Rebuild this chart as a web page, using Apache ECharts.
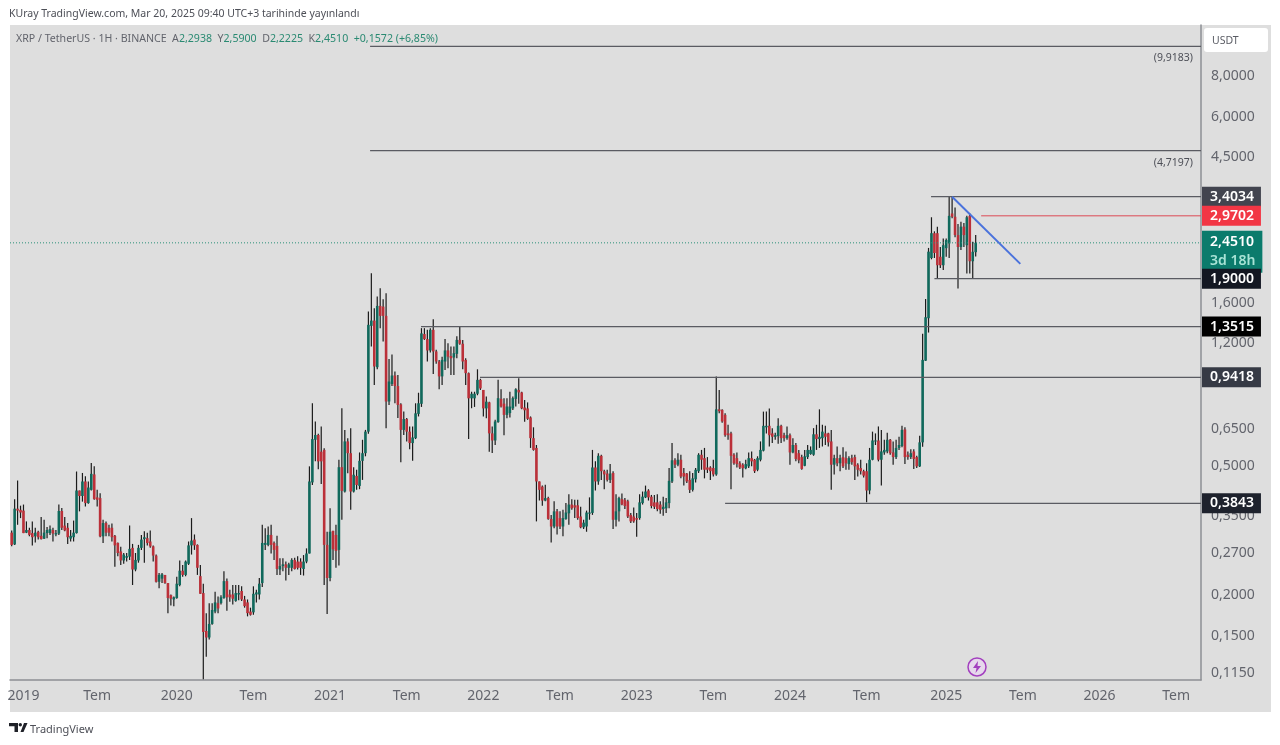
<!DOCTYPE html>
<html><head><meta charset="utf-8"><style>html,body{margin:0;padding:0;background:#fff}#c{width:1280px;height:745px}</style>
<script src="https://cdn.jsdelivr.net/npm/echarts@6/dist/echarts.min.js"></script></head>
<body><div id="c"></div>
<script>
// Weekly candles: [open, close, high, low]
const candles2019 = [
[.312,.286,.317,.283],[.287,.370,.396,.286],[.370,.365,.452,.330],[.367,.360,.378,.346],[.365,.311,.381,.311],[.312,.318,.338,.311],[.318,.307,.323,.304],[.311,.302,.338,.285],[.304,.312,.323,.291],[.314,.302,.316,.297],
[.305,.298,.349,.297],[.299,.312,.342,.298],[.311,.318,.325,.300],[.311,.320,.328,.307],[.318,.310,.323,.293],[.308,.311,.318,.304],[.310,.364,.381,.307],[.364,.323,.372,.318],[.328,.317,.349,.315],[.323,.302,.334,.288],
[.299,.305,.318,.293],[.302,.312,.340,.293],[.311,.421,.482,.310],[.421,.405,.421,.363],[.405,.449,.477,.389],[.449,.385,.466,.376],[.385,.430,.449,.383],[.423,.474,.512,.421],[.472,.396,.500,.394],[.401,.394,.423,.376],
[.399,.304,.413,.302],[.304,.334,.342,.290],[.334,.312,.338,.304],[.323,.312,.330,.304],[.323,.302,.333,.293],[.305,.285,.307,.245],[.290,.270,.291,.264],[.273,.256,.282,.248],[.256,.267,.270,.250],[.261,.264,.270,.254],
[.263,.278,.328,.257],[.280,.240,.288,.215],[.240,.257,.270,.237],[.256,.280,.286,.252],[.280,.297,.307,.276],[.298,.302,.315,.252],[.300,.290,.312,.285],[.293,.283,.317,.280],[.283,.265,.285,.254],[.265,.220,.267,.219],
[.220,.231,.234,.210],[.225,.232,.234,.218],[.231,.218,.231,.217],[.218,.196,.218,.176],[.200,.195,.201,.186],[.194,.197,.198,.185]];
const candles2020 = [
[.196,.217,.228,.195],[.215,.238,.256,.213],[.238,.231,.248,.228],[.231,.254,.256,.229],[.250,.285,.293,.248],[.285,.295,.346,.267],[.297,.285,.308,.276],[.286,.243,.287,.231],[.229,.202,.248,.202],[.203,.154,.217,.110],
[.155,.148,.176,.129],[.148,.163,.189,.146],[.163,.180,.189,.162],[.178,.190,.205,.176],[.189,.182,.198,.176],[.189,.197,.200,.187],[.196,.221,.237,.195],[.221,.197,.225,.179],[.201,.197,.208,.191],[.201,.195,.215,.187],
[.192,.203,.215,.191],[.201,.203,.215,.193],[.206,.194,.213,.192],[.194,.185,.199,.183],[.190,.176,.194,.172],[.178,.174,.183,.173],[.177,.202,.213,.174],[.201,.204,.208,.190],[.201,.217,.226,.194],[.218,.290,.330,.212],
[.286,.290,.322,.276],[.286,.307,.326,.283],[.307,.286,.330,.269],[.290,.276,.293,.257],[.284,.241,.305,.231],[.240,.246,.260,.231],[.246,.249,.260,.237],[.249,.243,.254,.222],[.243,.249,.252,.231],[.243,.257,.260,.237],
[.257,.241,.261,.240],[.254,.243,.264,.240],[.254,.243,.260,.231],[.241,.254,.266,.230],[.254,.269,.279,.251],[.269,.449,.500,.269],[.446,.607,.783,.438],[.604,.625,.688,.518],[.625,.518,.630,.490],[.555,.518,.664,.441],
[.562,.286,.569,.215],[.286,.226,.314,.175]];
const candles2021 = [
[.226,.314,.371,.221],[.316,.277,.316,.257],[.307,.274,.330,.243],[.276,.497,.524,.247],[.497,.420,.756,.342],[.418,.597,.648,.415],[.597,.549,.611,.476],[.549,.418,.656,.367],[.418,.471,.497,.415],[.467,.438,.488,.423],
[.435,.520,.552,.425],[.520,.549,.604,.454],[.549,.640,.648,.537],[.640,1.368,1.504,.630],[1.358,1.410,1.974,1.173],[1.410,1.017,1.539,.892],[1.012,1.565,1.674,.997],[1.565,1.458,1.776,1.336],[1.557,1.458,1.641,1.214],[1.458,.793,1.713,.656],
[.793,.914,1.072,.774],[.898,.954,1.107,.885],[.954,.885,.982,.783],[.885,.774,.958,.705],[.777,.648,.783,.515],[.648,.700,.738,.625],[.700,.640,.705,.597],[.640,.590,.664,.565],[.590,.614,.664,.520],[.611,.729,.783,.607],
[.726,.783,.844,.713],[.780,1.287,1.336,.763],[1.281,1.236,1.336,1.229],[1.236,1.140,1.320,1.054],[1.140,1.320,1.336,1.123],[1.320,1.132,1.424,.964],[1.132,1.054,1.145,1.037],[1.054,.948,1.066,.865],[.948,1.066,1.091,.892],[1.054,1.140,1.236,.992],
[1.140,1.091,1.201,1.005],[1.096,1.078,1.173,.958],[1.084,1.118,1.173,.958],[1.113,1.229,1.262,1.078],[1.229,1.196,1.352,1.188],[1.196,1.054,1.229,.997],[1.066,.970,1.078,.892],[.970,.811,.975,.607],[.811,.838,.850,.756],[.811,.838,.850,.763],
[.838,.925,.997,.829],[.925,.870,.932,.861]];
const candles2022 = [
[.861,.755,.861,.713],[.755,.792,.822,.704],[.788,.632,.792,.555],[.632,.601,.664,.550],[.601,.688,.696,.582],[.685,.812,.925,.682],[.808,.765,.865,.760],[.781,.721,.812,.624],[.721,.765,.812,.704],[.730,.765,.850,.708],
[.755,.812,.822,.747],[.808,.865,.871,.765],[.861,.846,.936,.781],[.846,.755,.850,.750],[.760,.745,.802,.687],[.755,.701,.788,.696],[.708,.611,.713,.570],[.611,.562,.660,.559],[.570,.449,.582,.338],[.449,.423,.449,.392],
[.433,.392,.436,.378],[.392,.399,.439,.390],[.399,.344,.403,.342],[.344,.326,.354,.291],[.326,.363,.390,.322],[.363,.326,.369,.308],[.346,.326,.363,.320],[.326,.346,.367,.304],[.344,.360,.385,.342],[.358,.381,.410,.330],
[.381,.371,.396,.367],[.379,.373,.394,.346],[.379,.346,.394,.342],[.350,.324,.375,.322],[.324,.335,.342,.320],[.326,.360,.365,.314],[.357,.360,.401,.342],[.359,.496,.562,.354],[.496,.449,.518,.421],[.449,.539,.549,.439],
[.539,.483,.543,.454],[.483,.472,.488,.425],[.475,.454,.488,.449],[.454,.475,.508,.444],[.477,.342,.483,.320],[.342,.363,.410,.326],[.363,.399,.403,.338],[.396,.381,.412,.379],[.394,.377,.399,.369],[.390,.350,.394,.346],
[.354,.338,.359,.334],[.350,.338,.373,.335]];
const candles2023 = [
[.346,.342,.359,.303],[.346,.387,.410,.342],[.385,.403,.418,.381],[.401,.418,.436,.399],[.421,.401,.425,.392],[.403,.377,.408,.371],[.387,.375,.408,.369],[.387,.369,.410,.363],[.381,.367,.390,.357],[.369,.375,.403,.352],
[.371,.387,.399,.359],[.385,.451,.494,.371],[.449,.522,.590,.444],[.522,.506,.530,.494],[.506,.524,.549,.500],[.524,.465,.543,.459],[.477,.465,.494,.436],[.475,.449,.477,.444],[.454,.423,.483,.414],[.423,.459,.477,.418],
[.456,.488,.494,.446],[.483,.543,.549,.477],[.543,.524,.562,.488],[.530,.488,.570,.459],[.496,.488,.534,.477],[.496,.483,.500,.454],[.494,.472,.524,.465],[.472,.750,.947,.468],[.750,.740,.861,.730],[.747,.688,.750,.682],
[.721,.624,.730,.617],[.632,.624,.672,.604],[.632,.539,.640,.425],[.543,.511,.549,.506],[.530,.508,.552,.496],[.511,.496,.518,.491],[.506,.493,.511,.462],[.493,.508,.524,.490],[.500,.530,.552,.494],[.530,.518,.556,.500],
[.524,.483,.527,.477],[.488,.530,.537,.483],[.524,.562,.597,.518],[.559,.667,.738,.556],[.660,.667,.738,.632],[.667,.624,.755,.576],[.632,.617,.656,.590],[.617,.624,.635,.604],[.620,.667,.704,.587],[.667,.611,.672,.590],
[.624,.611,.635,.597],[.611,.624,.664,.604]];
const candles2024 = [
[.624,.552,.632,.506],[.552,.582,.611,.549],[.582,.527,.590,.518],[.549,.522,.562,.511],[.534,.491,.543,.488],[.502,.537,.562,.500],[.534,.562,.582,.527],[.546,.562,.576,.543],[.543,.628,.656,.539],[.628,.607,.672,.562],
[.607,.617,.750,.570],[.611,.640,.672,.576],[.632,.617,.667,.582],[.632,.593,.635,.576],[.597,.506,.648,.423],[.506,.530,.543,.472],[.530,.511,.576,.500],[.511,.530,.543,.483],[.534,.500,.573,.494],[.530,.511,.556,.488],
[.508,.530,.537,.488],[.530,.515,.543,.506],[.534,.500,.543,.454],[.506,.488,.511,.465],[.494,.483,.524,.472],[.483,.468,.488,.462],[.483,.421,.511,.387],[.421,.524,.570,.410],[.524,.601,.640,.522],[.597,.601,.632,.582],
[.601,.524,.664,.518],[.524,.556,.648,.436],[.552,.562,.604,.543],[.556,.604,.635,.549],[.604,.549,.607,.543],[.552,.534,.597,.506],[.534,.570,.604,.527],[.570,.582,.617,.562],[.578,.648,.667,.573],[.650,.534,.660,.508],
[.543,.534,.556,.524],[.534,.549,.565,.527],[.556,.527,.565,.491],[.534,.500,.539,.494],[.500,.593,.621,.498],[.593,1.066,1.283,.575],[1.060,1.444,1.644,1.058],[1.434,2.302,2.364,1.295],[2.20,2.625,2.94,2.18],[2.625,2.28,2.66,2.20],
[2.625,2.09,2.75,1.90],[2.22,2.09,2.38,2.05],[2.09,2.41,2.53,2.02]];
const candles2025 = [
[2.36,2.50,2.53,2.22],[2.44,2.97,3.40,2.20],[3.02,2.95,3.4034,2.92],[2.95,2.59,3.15,2.55],[2.59,2.38,2.80,1.77],[2.38,2.75,2.85,2.33],[2.75,2.59,2.82,2.38],[2.41,2.94,2.97,1.97],[2.97,2.15,3.02,1.97],[2.15,2.30,2.47,1.91],
[2.2938,2.4510,2.5900,2.2225]];

const firstWeek = '2018-12-10';
const axisStart = '2018-12-06';
const axisEnd = '2026-09-03';

const timeTickDates = ['2019-01-07','2019-07-01','2020-01-06','2020-07-06','2021-01-04','2021-07-05','2022-01-03','2022-07-04','2023-01-02','2023-07-03','2024-01-01','2024-07-01','2025-01-06','2025-07-07','2026-01-05','2026-07-06'];
const timeTickLabels = ['2019','Tem','2020','Tem','2021','Tem','2022','Tem','2023','Tem','2024','Tem','2025','Tem','2026','Tem'];
const priceTicks = [8,6,4.5,1.6,1.2,0.65,0.5,0.35,0.27,0.2,0.15,0.115];

const levelPrices = [9.9183,4.7197,3.4034,2.9702,2.4510,1.9000,1.3515,0.9418,0.3843];
const levelStarts = ['2021-04-09','2021-04-09','2024-12-01','2025-03-30',axisStart,'2024-12-09','2021-08-08','2021-12-26','2023-07-31'];
const trendDates = ['2025-01-20','2025-07-01'];
const trendPrices = [3.4034,2.11];

const BULL='#10695c', BEAR='#bb3039', WICK='#1b1b1b', LINE='#5a5b62', GREY='#dedede', TXT='#62646c';
const FONT='"Noto Sans",sans-serif';
const fmt=v=>v.toFixed(4).replace('.',',');
const ms=s=>new Date(s+'T00:00:00Z').getTime();

const allCandles=[...candles2019,...candles2020,...candles2021,...candles2022,...candles2023,...candles2024,...candles2025];
const rows=allCandles.map((c,i)=>[ms(firstWeek)+i*7*864e5,c[0],c[1],c[2],c[3]]);

const levelStyle=[
 {color:LINE,width:1.3},{color:LINE,width:1.3},{color:LINE,width:1.3},{color:'#dc4a55',width:1},
 {color:'#2a8f78',width:1,type:[1,2]},{color:LINE,width:1.3},{color:LINE,width:1.3},{color:LINE,width:1.3},{color:LINE,width:1.3}];
const levelSeries=levelPrices.map((p,i)=>({type:'line',silent:true,symbol:'none',animation:false,z:3,
  data:[[ms(levelStarts[i]),p],[ms(axisEnd),p]],lineStyle:levelStyle[i]}));

const tagStyles=[
 null,null,
 {bg:'#42444f',text:'3,4034'},{bg:'#f23645',text:'2,9702'},
 {bg:'#0b7b6c',text:'{a|2,4510}\n{b|3d 18h}',offset:[0,9]},
 {bg:'#131722',text:'1,9000'},{bg:'#000000',text:'1,3515'},{bg:'#363a45',text:'0,9418'},{bg:'#1e222d',text:'0,3843'}];
const order=[2,3,4,5,6,7,8];
const tagSeries={type:'scatter',silent:true,symbolSize:0,animation:false,z:6,clip:false,itemStyle:{opacity:1},
  data:order.map(i=>({value:[ms(axisEnd),levelPrices[i]],label:{show:true,position:'right',distance:1,
    formatter:tagStyles[i].text,backgroundColor:tagStyles[i].bg,color:'#fff',fontFamily:FONT,fontSize:14,fontWeight:600,
    lineHeight:16,padding:[2,7,2,8],offset:tagStyles[i].offset||[0,0],
    rich:{a:{color:'#fff',fontFamily:FONT,fontSize:14,fontWeight:600,lineHeight:19},b:{color:'#a8e3d6',fontFamily:FONT,fontSize:14,lineHeight:19}}}}))};
const noteSeries={type:'scatter',silent:true,symbolSize:0,animation:false,z:6,itemStyle:{opacity:1},
  data:[0,1].map(i=>({value:[ms(axisEnd),levelPrices[i]],label:{show:true,position:'left',distance:8,offset:[0,12],
    formatter:'('+fmt(levelPrices[i])+')',color:'#4d4f57',fontFamily:FONT,fontSize:10.5}}))};

const chart=echarts.init(document.getElementById('c'),null,{renderer:'canvas'});
chart.setOption({
 animation:false,backgroundColor:'#ffffff',
 grid:{left:10,right:79,top:25,bottom:65},
 xAxis:{type:'value',min:ms(axisStart),max:ms(axisEnd),
   axisLine:{show:true,lineStyle:{color:'#8d8f94',width:1.5}},axisTick:{show:false},splitLine:{show:false},
   axisLabel:{customValues:timeTickDates.map(ms),hideOverlap:false,margin:9,color:TXT,fontFamily:FONT,fontSize:14,
     formatter:(v)=>{const i=timeTickDates.findIndex(s=>ms(s)===v);return i>=0?timeTickLabels[i]:'';}}},
 yAxis:{type:'log',logBase:10,min:0.1094,max:11.54,position:'right',
   axisLine:{show:true,onZero:false,lineStyle:{color:'#8d8f94',width:1.5}},axisTick:{show:false},splitLine:{show:false},minorTick:{show:false},
   axisLabel:{customValues:priceTicks,margin:10,color:TXT,fontFamily:FONT,fontSize:14,padding:[0,0,7,0],hideOverlap:false,
     formatter:v=>fmt(+v)}},
 series:[
  {type:'custom',silent:true,z:2,animation:false,data:rows,encode:{x:0,y:[1,2,3,4]},
   renderItem:(params,api)=>{
     const t=api.value(0),o=api.value(1),c=api.value(2),h=api.value(3),l=api.value(4);
     const pO=api.coord([t,o]),pC=api.coord([t,c]),pH=api.coord([t,h]),pL=api.coord([t,l]);
     const top=Math.min(pO[1],pC[1]),bot=Math.max(pO[1],pC[1]);
     return {type:'group',children:[
       {type:'line',shape:{x1:pH[0],y1:pH[1],x2:pL[0],y2:pL[1]},style:{stroke:WICK,lineWidth:1.2}},
       {type:'rect',shape:{x:pO[0]-1.3,y:top,width:2.6,height:Math.max(bot-top,1)},style:{fill:c>=o?BULL:BEAR}}
     ]};
   }},
  ...levelSeries,
  {type:'line',silent:true,symbol:'none',animation:false,z:4,data:trendDates.map((d,i)=>[ms(d),trendPrices[i]]),lineStyle:{color:'#4a72dc',width:2}},
  noteSeries,tagSeries
 ],
 graphic:[
  {type:'rect',z:-10,silent:true,shape:{x:10,y:25,width:1261,height:687},style:{fill:GREY}},
  {type:'rect',z:1,silent:true,shape:{x:1204,y:28,width:64,height:24,r:3},style:{fill:'#ffffff'}},
  {type:'text',z:2,silent:true,x:1212,y:41,style:{text:'USDT',fill:'#5a5c64',font:'10.5px '+FONT,verticalAlign:'middle'}},
  {type:'text',z:2,silent:true,x:9,y:14,style:{text:'KUray TradingView.com, Mar 20, 2025 09:40 UTC+3 tarihinde yayınlandı',fill:'#4d4f57',font:'10.5px '+FONT,verticalAlign:'middle'}},
  {type:'text',z:2,silent:true,x:16,y:39,style:{
     text:'{n|XRP / TetherUS · 1H · BINANCE}  {n|A}{g|2,2938}  {n|Y}{g|2,5900}  {n|D}{g|2,2225}  {n|K}{g|2,4510}  {g|+0,1572 (+6,85%)}',
     verticalAlign:'middle',font:'10.6px '+FONT,
     rich:{n:{fill:'#62646c',font:'10.6px '+FONT},g:{fill:'#2a8a72',font:'10.6px '+FONT}}}},
  {type:'polygon',z:2,silent:true,shape:{points:[[9,723],[18,723],[18,732],[14.5,732],[14.5,726.2],[9,726.2]]},style:{fill:'#1f2128'}},
  {type:'polygon',z:2,silent:true,shape:{points:[[20.5,732],[24,723],[27.5,723],[23.5,732]]},style:{fill:'#1f2128'}},
  {type:'circle',z:2,silent:true,shape:{cx:20.3,cy:724.8,r:1.7},style:{fill:'#1f2128'}},
  {type:'text',z:2,silent:true,x:30,y:730,style:{text:'TradingView',fill:'#4d4f57',font:'11px '+FONT,verticalAlign:'middle'}},
  {type:'circle',z:2,silent:true,shape:{cx:977,cy:667,r:9},style:{fill:'#e6d8ec',stroke:'#a33fbf',lineWidth:1.5}},
  {type:'polygon',z:3,silent:true,shape:{points:[[978,661],[973,668],[976.5,668],[975.5,673],[981,666],[977.5,666]]},style:{fill:'#a33fbf'}}
 ]
});
</script></body></html>
